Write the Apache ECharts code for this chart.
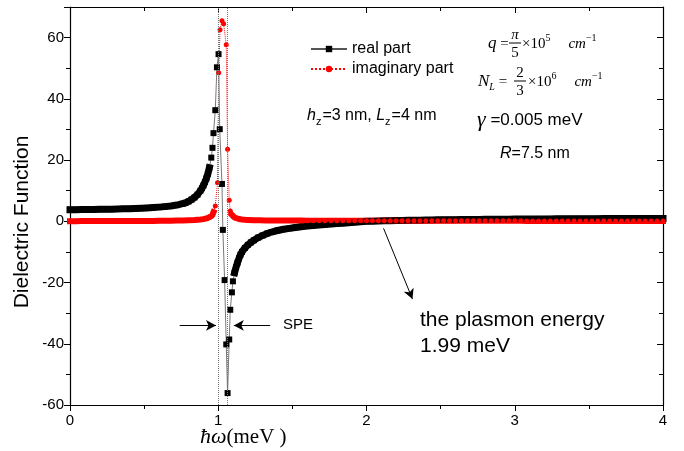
<!DOCTYPE html>
<html>
<head>
<meta charset="utf-8">
<script src="https://cdn.jsdelivr.net/npm/echarts@6/dist/echarts.min.js"></script>
<style>
  html, body { margin: 0; padding: 0; background: #fff; }
  #chart { width: 684px; height: 451px; }
</style>
</head>
<body>
<div id="chart"></div>
<script>
// real part (x = hbar*omega in meV, y = dielectric function)
var realPart = [
  [0.00, 3.80], [0.04, 3.80], [0.08, 3.82], [0.12, 3.84], [0.16, 3.86], [0.20, 3.90],
  [0.24, 3.93], [0.28, 3.97], [0.32, 4.02], [0.36, 4.07], [0.40, 4.12], [0.44, 4.20],
  [0.48, 4.28], [0.52, 4.38], [0.56, 4.50], [0.60, 4.63], [0.64, 4.80], [0.68, 5.00],
  [0.72, 5.30], [0.76, 5.75], [0.78, 6.05], [0.80, 6.50], [0.82, 7.10], [0.84, 7.80],
  [0.86, 8.70], [0.88, 10.0], [0.89, 10.8], [0.90, 11.7], [0.91, 12.8], [0.92, 14.0],
  [0.93, 15.5], [0.94, 17.5], [0.953, 20.8], [0.961, 24.0], [0.968, 28.8], [0.980, 36.3],
  [0.991, 50.3], [1.002, 54.6], [1.010, 30.1], [1.025, 12.2], [1.031, -2.8], [1.043, -19.2],
  [1.054, -40.2], [1.063, -56.1], [1.074, -38.6], [1.081, -28.9], [1.092, -23.2], [1.099, -19.6],
  [1.11, -16.8], [1.12, -15.0], [1.13, -13.5], [1.14, -12.1], [1.15, -10.9], [1.16, -10.0],
  [1.18, -8.7], [1.20, -7.7], [1.22, -6.9], [1.24, -6.2], [1.27, -5.3], [1.30, -4.6],
  [1.33, -4.0], [1.36, -3.5], [1.40, -3.0], [1.44, -2.6], [1.48, -2.3], [1.52, -2.0],
  [1.56, -1.75], [1.60, -1.55], [1.64, -1.35], [1.68, -1.2], [1.72, -1.05], [1.76, -0.9],
  [1.80, -0.75], [1.84, -0.6], [1.88, -0.45], [1.92, -0.3], [1.96, -0.15], [2.00, 0.0],
  [2.04, 0.05], [2.08, 0.1], [2.12, 0.15], [2.16, 0.2], [2.20, 0.24], [2.24, 0.28],
  [2.28, 0.32], [2.32, 0.35], [2.36, 0.38], [2.40, 0.41], [2.44, 0.44], [2.48, 0.47],
  [2.52, 0.5], [2.56, 0.52], [2.60, 0.54], [2.64, 0.56], [2.68, 0.58], [2.72, 0.6],
  [2.76, 0.62], [2.80, 0.64], [2.84, 0.66], [2.88, 0.67], [2.92, 0.69], [2.96, 0.7],
  [3.00, 0.72], [3.04, 0.73], [3.08, 0.74], [3.12, 0.76], [3.16, 0.77], [3.20, 0.78],
  [3.24, 0.79], [3.28, 0.8], [3.32, 0.81], [3.36, 0.82], [3.40, 0.83], [3.44, 0.84],
  [3.48, 0.85], [3.52, 0.86], [3.56, 0.87], [3.60, 0.88], [3.64, 0.89], [3.68, 0.9],
  [3.72, 0.9], [3.76, 0.91], [3.80, 0.92], [3.84, 0.93], [3.88, 0.93], [3.92, 0.94],
  [3.96, 0.95], [4.00, 0.95]
];

// imaginary part
var imagPart = [
  [0.00, 0.05], [0.04, 0.05], [0.08, 0.06], [0.12, 0.06], [0.16, 0.07], [0.20, 0.07],
  [0.24, 0.08], [0.28, 0.08], [0.32, 0.09], [0.36, 0.1], [0.40, 0.1], [0.44, 0.11],
  [0.48, 0.12], [0.52, 0.13], [0.56, 0.14], [0.60, 0.16], [0.64, 0.18], [0.68, 0.2],
  [0.72, 0.23], [0.76, 0.27], [0.80, 0.33], [0.84, 0.42], [0.88, 0.58], [0.90, 0.72],
  [0.92, 0.95], [0.94, 1.35], [0.95, 1.6], [0.96, 2.0], [0.968, 3.0], [0.980, 5.0],
  [0.995, 12.6], [1.003, 48.5], [1.012, 62.6], [1.025, 65.5], [1.036, 64.5], [1.054, 57.7],
  [1.063, 23.5], [1.074, 6.9], [1.081, 3.4], [1.09, 2.2], [1.10, 1.6], [1.11, 1.25],
  [1.12, 1.0], [1.14, 0.75], [1.16, 0.6], [1.18, 0.5], [1.20, 0.45], [1.24, 0.38],
  [1.28, 0.33], [1.32, 0.3], [1.36, 0.28], [1.40, 0.26], [1.44, 0.25], [1.48, 0.24],
  [1.52, 0.23], [1.56, 0.23], [1.60, 0.22], [1.64, 0.22], [1.68, 0.21], [1.72, 0.21],
  [1.76, 0.2], [1.80, 0.2], [1.84, 0.2], [1.88, 0.19], [1.92, 0.19], [1.96, 0.19],
  [2.00, 0.18], [2.04, 0.18], [2.08, 0.18], [2.12, 0.18], [2.16, 0.17], [2.20, 0.17],
  [2.24, 0.17], [2.28, 0.17], [2.32, 0.17], [2.36, 0.16], [2.40, 0.16], [2.44, 0.16],
  [2.48, 0.16], [2.52, 0.16], [2.56, 0.16], [2.60, 0.16], [2.64, 0.15], [2.68, 0.15],
  [2.72, 0.15], [2.76, 0.15], [2.80, 0.15], [2.84, 0.15], [2.88, 0.15], [2.92, 0.15],
  [2.96, 0.15], [3.00, 0.15], [3.04, 0.15], [3.08, 0.14], [3.12, 0.14], [3.16, 0.14],
  [3.20, 0.14], [3.24, 0.14], [3.28, 0.14], [3.32, 0.14], [3.36, 0.14], [3.40, 0.14],
  [3.44, 0.14], [3.48, 0.14], [3.52, 0.14], [3.56, 0.14], [3.60, 0.14], [3.64, 0.14],
  [3.68, 0.14], [3.72, 0.14], [3.76, 0.14], [3.80, 0.14], [3.84, 0.14], [3.88, 0.14],
  [3.92, 0.14], [3.96, 0.14], [4.00, 0.14]
];

// SPE boundaries and annotation arrows (data coords)
var speLines = [1.0, 1.06];
var speArrowL = [[0.74, -34], [0.985, -34]];
var speArrowR = [[1.35, -34], [1.105, -34]];
var plasmonArrow = [[2.115, -2.3], [2.31, -25.4]];

var sans = 'Liberation Sans';
var serif = 'Liberation Serif';

var myChart = echarts.init(document.getElementById('chart'));

// lays out a run of text pieces side by side
var ctx = document.createElement('canvas').getContext('2d');
function run(x, y, parts) {
    var out = [];
    parts.forEach(function (p) {
        var font = (p.italic ? 'italic ' : '') + p.size + 'px "' + (p.family || sans) + '"';
        ctx.font = font;
        out.push({
            type: 'text', x: x + (p.dx || 0), y: y + (p.dy || 0),
            style: { text: p.t, font: font, fill: '#000', textVerticalAlign: 'middle' }
        });
        x += (p.dx || 0) + ctx.measureText(p.t).width;
    });
    return out;
}
function frac(cx, y, top, bottom, size) {
    var font = size + 'px "' + serif + '"';
    return [
        { type: 'text', x: cx, y: y - 9, style: { text: top, font: (top === 'π' ? 'italic ' : '') + font, fill: '#000', textAlign: 'center', textVerticalAlign: 'middle' } },
        { type: 'line', shape: { x1: cx - 6, y1: y - 1, x2: cx + 6, y2: y - 1 }, style: { stroke: '#000', lineWidth: 1 } },
        { type: 'text', x: cx, y: y + 9, style: { text: bottom, font: font, fill: '#000', textAlign: 'center', textVerticalAlign: 'middle' } }
    ];
}

var graphics = [].concat(
    run(307, 116, [
        { t: 'h', size: 16, italic: true }, { t: 'z', size: 11, dy: 6 },
        { t: '=3 nm, ', size: 16, dx: 1 },
        { t: 'L', size: 16, italic: true }, { t: 'z', size: 11, dy: 6 },
        { t: '=4 nm', size: 16, dx: 1 }
    ]),
    run(488, 44, [
        { t: 'q', size: 17, italic: true, family: serif }, { t: ' = ', size: 15, family: serif }
    ]),
    frac(515, 44, 'π', '5', 15),
    run(522, 44, [
        { t: '×10', size: 15, family: serif }, { t: '5', size: 10, family: serif, dy: -6 },
        { t: 'cm', size: 15, italic: true, family: serif, dx: 18 }, { t: '−1', size: 10, family: serif, dy: -6 }
    ]),
    run(478, 82, [
        { t: 'N', size: 17, italic: true, family: serif }, { t: 'L', size: 10, italic: true, family: serif, dy: 5 },
        { t: ' = ', size: 15, family: serif }
    ]),
    frac(520, 82, '2', '3', 15),
    run(528, 82, [
        { t: '×10', size: 15, family: serif }, { t: '6', size: 10, family: serif, dy: -6 },
        { t: 'cm', size: 15, italic: true, family: serif, dx: 18 }, { t: '−1', size: 10, family: serif, dy: -6 }
    ]),
    run(477, 120, [
        { t: 'γ', size: 22, italic: true, family: serif }, { t: ' =0.005 meV', size: 17 }
    ]),
    run(500, 154, [
        { t: 'R', size: 16, italic: true }, { t: '=7.5 nm', size: 16 }
    ]),
    [
        { type: 'text', x: 283, y: 325, style: { text: 'SPE', font: '15px "' + sans + '"', fill: '#000', textVerticalAlign: 'middle' } },
        { type: 'text', x: 420, y: 320, style: { text: 'the plasmon energy', font: '21px "' + sans + '"', fill: '#000', textVerticalAlign: 'middle' } },
        { type: 'text', x: 420, y: 346, style: { text: '1.99 meV', font: '21px "' + sans + '"', fill: '#000', textVerticalAlign: 'middle' } },
        {
            type: 'text', x: 22, y: 222, rotation: Math.PI / 2,
            style: { text: 'Dielectric Function', font: '21px "' + sans + '"', fill: '#000', textAlign: 'center', textVerticalAlign: 'middle' }
        }
    ],
    run(200, 437, [
        { t: 'ħω', size: 22, italic: true, family: serif }, { t: '(meV )', size: 21, family: serif }
    ])
);

var axisCommon = {
    type: 'value',
    axisLine: { onZero: false, lineStyle: { color: '#000', width: 1.2 } },
    splitLine: { show: false }
};

// smooth parts of the curves drawn as a solid band of overlapping markers
function bandSeries(name, data, lo, hi, color, width) {
    var left = data.filter(function (p) { return p[0] <= lo; });
    var right = data.filter(function (p) { return p[0] >= hi; });
    return [left, right].map(function (d) {
        return {
            name: name, type: 'line', data: d, symbol: 'none', silent: true,
            lineStyle: { color: color, width: width, cap: 'square', join: 'round' }
        };
    });
}

myChart.setOption({
    animation: false,
    grid: { left: 70, right: 21, top: 7, bottom: 46 },
    legend: {
        orient: 'vertical', left: 305, top: 36,
        itemWidth: 36, itemHeight: 8, itemGap: 4,
        textStyle: { fontFamily: sans, fontSize: 16, color: '#000' },
        data: ['real part', 'imaginary part']
    },
    xAxis: [
        Object.assign({}, axisCommon, {
            min: 0, max: 4, interval: 1, position: 'bottom',
            axisTick: { length: 6, lineStyle: { color: '#000' } },
            minorTick: { show: true, splitNumber: 2, length: 4, lineStyle: { color: '#000' } },
            axisLabel: { fontFamily: sans, fontSize: 15, color: '#000', margin: 8 }
        }),
        Object.assign({}, axisCommon, {
            min: 0, max: 4, interval: 1, position: 'top',
            axisTick: { inside: true, length: 6, lineStyle: { color: '#000' } },
            minorTick: { show: true, splitNumber: 2, length: 4, lineStyle: { color: '#000' } },
            axisLabel: { show: false }
        })
    ],
    yAxis: [
        Object.assign({}, axisCommon, {
            min: -60, max: 70, interval: 20, position: 'left',
            axisTick: { length: 6, lineStyle: { color: '#000' } },
            minorTick: { show: true, splitNumber: 2, length: 4, lineStyle: { color: '#000' } },
            axisLabel: {
                fontFamily: sans, fontSize: 15, color: '#000', margin: 6,
                formatter: function (v) { return v > 60 ? '' : String(v); }
            }
        }),
        Object.assign({}, axisCommon, {
            min: -60, max: 70, interval: 20, position: 'right',
            axisTick: { inside: true, length: 6, lineStyle: { color: '#000' } },
            minorTick: { show: true, splitNumber: 2, length: 4, lineStyle: { color: '#000' } },
            axisLabel: { show: false }
        })
    ],
    graphic: graphics,
    series: [].concat(
        bandSeries('real band', realPart, 0.94, 1.11, '#000', 7),
        [{
            name: 'real part',
            type: 'line',
            data: realPart,
            symbol: 'rect',
            symbolSize: 6,
            itemStyle: { color: '#000' },
            lineStyle: { color: '#555', width: 0.8 },
            markLine: {
                silent: true,
                symbol: 'none',
                label: { show: false },
                lineStyle: { color: '#777', type: 'dotted', width: 1 },
                data: speLines.map(function (v) { return { xAxis: v }; })
            }
        }],
        bandSeries('imag band', imagPart, 0.968, 1.09, '#f00', 6),
        [{
            name: 'imaginary part',
            type: 'line',
            data: imagPart,
            symbol: 'circle',
            symbolSize: 5,
            itemStyle: { color: '#f00' },
            lineStyle: { color: '#f00', width: 1, type: 'dotted' },
            markLine: {
                silent: true,
                symbol: ['none', 'arrow'],
                symbolSize: [8, 10],
                label: { show: false },
                lineStyle: { color: '#000', type: 'solid', width: 1 },
                data: [speArrowL, speArrowR, plasmonArrow].map(function (a) {
                    return [{ coord: a[0] }, { coord: a[1] }];
                })
            }
        }]
    )
});
</script>
</body>
</html>
